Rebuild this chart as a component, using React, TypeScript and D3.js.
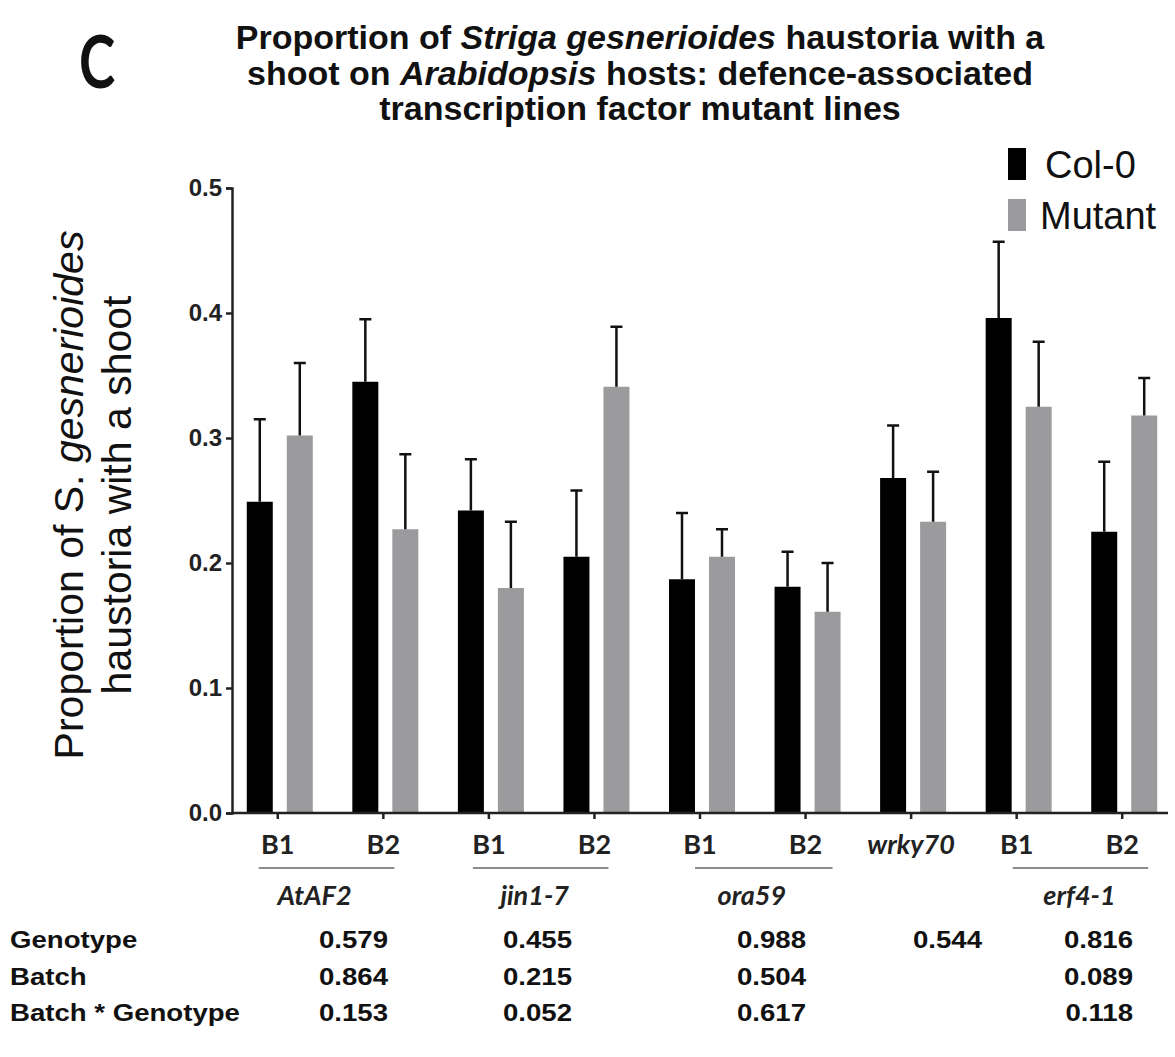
import React, { useEffect, useRef } from "react";
import * as d3 from "d3";

// bar chart data
const categories = ["AtAF2 B1", "AtAF2 B2", "jin1-7 B1", "jin1-7 B2", "ora59 B1", "ora59 B2", "wrky70", "erf4-1 B1", "erf4-1 B2"];
const tickLabels = ["B1", "B2", "B1", "B2", "B1", "B2", "wrky70", "B1", "B2"];
const col0Mean = [0.249, 0.345, 0.242, 0.205, 0.187, 0.181, 0.268, 0.396, 0.225];
const col0Sem = [0.066, 0.05, 0.041, 0.053, 0.053, 0.028, 0.042, 0.061, 0.056];
const mutantMean = [0.302, 0.227, 0.18, 0.341, 0.205, 0.161, 0.233, 0.325, 0.318];
const mutantSem = [0.058, 0.06, 0.053, 0.048, 0.022, 0.039, 0.04, 0.052, 0.03];
const series = ["Col-0", "Mutant"];
const yTicks = [0, 0.1, 0.2, 0.3, 0.4, 0.5];

// genes spanning two batches
const geneNames = ["AtAF2", "jin1-7", "ora59", "erf4-1"];
const geneFirst = [0, 2, 4, 7];
const geneLast = [1, 3, 5, 8];

// p-values table
const rowLabels = ["Genotype", "Batch", "Batch * Genotype"];
const genotypeP = ["0.579", "0.455", "0.988", "0.544", "0.816"];
const batchP = ["0.864", "0.215", "0.504", "", "0.089"];
const interactionP = ["0.153", "0.052", "0.617", "", "0.118"];

const W = 1175;
const H = 1057;
const ARIAL = "'Liberation Sans', Arial, sans-serif";
const CALIBRI = "Lato, 'Open Sans', sans-serif";

// hand-placed offsets of the gene underlines / names (relative to the B1/B2 ticks)
const lineStartOff = [-19, -16, -5, -4];
const lineEndOff = [11, 14, 27, 26];
const nameOff = [-12, -6, -12, -1];

const BarChart = () => {
  const ref = useRef<SVGSVGElement>(null);

  useEffect(() => {
    const svg = d3.select(ref.current);
    svg.selectAll("*").remove();

    const x = d3.scaleBand().domain(categories).range([225, 1175]);
    const bw = x.bandwidth();
    const xs = d3.scaleBand().domain(series).range([bw / 2 - 31, bw / 2 + 35]).paddingInner(0.35);
    const y = d3.scaleLinear().domain([0, 0.5]).range([813, 188]);
    const color = d3.scaleOrdinal<string>().domain(series).range(["#000000", "#9b9b9d"]);

    const rows = categories.map((c, i) => ({
      cat: c,
      vals: [
        { s: "Col-0", m: col0Mean[i], e: col0Sem[i] },
        { s: "Mutant", m: mutantMean[i], e: mutantSem[i] },
      ],
    }));

    // title
    const title = svg.append("text").attr("text-anchor", "middle").attr("font-family", ARIAL)
      .attr("font-weight", "bold").attr("font-size", 34).attr("fill", "#111");
    const l1 = title.append("tspan").attr("x", 640).attr("y", 49);
    l1.append("tspan").text("Proportion of ");
    l1.append("tspan").attr("font-style", "italic").text("Striga gesnerioides");
    l1.append("tspan").text(" haustoria with a");
    const l2 = title.append("tspan").attr("x", 640).attr("y", 85);
    l2.append("tspan").text("shoot on ");
    l2.append("tspan").attr("font-style", "italic").text("Arabidopsis");
    l2.append("tspan").text(" hosts: defence-associated");
    title.append("tspan").attr("x", 640).attr("y", 120).text("transcription factor mutant lines");

    // panel letter
    svg.append("text").attr("transform", "translate(79,88) scale(0.76,1)")
      .attr("font-family", CALIBRI).attr("font-weight", 700).attr("font-size", 72).attr("fill", "#111").text("C");

    // y label
    const yl = svg.append("text").attr("transform", "translate(0,495) rotate(-90)")
      .attr("text-anchor", "middle").attr("font-family", ARIAL).attr("font-size", 41).attr("fill", "#111");
    const yl1 = yl.append("tspan").attr("x", 0).attr("y", 83);
    yl1.append("tspan").text("Proportion of S. ");
    yl1.append("tspan").attr("font-style", "italic").text("gesnerioides");
    yl.append("tspan").attr("x", 0).attr("y", 131).text("haustoria with a shoot");

    // bars
    const g = svg.append("g").selectAll("g").data(rows).join("g")
      .attr("transform", d => `translate(${x(d.cat)},0)`);
    g.selectAll("rect").data(d => d.vals).join("rect")
      .attr("x", d => xs(d.s) as number)
      .attr("y", d => y(d.m))
      .attr("width", xs.bandwidth())
      .attr("height", d => y(0) - y(d.m))
      .attr("fill", d => color(d.s));
    // error bars (upper only)
    g.selectAll("path.err").data(d => d.vals).join("path").attr("class", "err")
      .attr("d", d => {
        const cx = (xs(d.s) as number) + xs.bandwidth() / 2;
        return `M${cx},${y(d.m)}V${y(d.m + d.e)}M${cx - 6},${y(d.m + d.e)}H${cx + 6}`;
      })
      .attr("stroke", "#111").attr("stroke-width", 2.5).attr("fill", "none");

    // y axis
    const yAxis = svg.append("g").attr("transform", "translate(232,0)")
      .call(d3.axisLeft(y).tickValues(yTicks).tickFormat(d3.format(".1f")).tickSize(6).tickPadding(4));
    yAxis.select(".domain").attr("stroke", "#222").attr("stroke-width", 2.5);
    yAxis.selectAll(".tick line").attr("stroke", "#222").attr("stroke-width", 2.5);
    yAxis.selectAll(".tick text").attr("font-family", ARIAL).attr("font-weight", "bold")
      .attr("font-size", 24).attr("fill", "#222");

    // x axis
    const xAxis = svg.append("g").attr("transform", "translate(0,813)")
      .call(d3.axisBottom(x).tickSize(6).tickFormat((d, i) => tickLabels[i]));
    xAxis.select(".domain").attr("d", "M232,0H1168").attr("stroke", "#222").attr("stroke-width", 2.5);
    xAxis.selectAll(".tick line").attr("stroke", "#222").attr("stroke-width", 2.5);
    xAxis.selectAll(".tick text").attr("font-family", CALIBRI).attr("font-weight", "bold")
      .attr("font-size", 27).attr("fill", "#222").attr("dy", 0).attr("y", 41)
      .attr("font-style", (d, i) => (tickLabels[i] === "wrky70" ? "italic" : "normal"));

    // gene underlines + names
    geneNames.forEach((name, i) => {
      const x0 = (x(categories[geneFirst[i]]) as number) + bw / 2 + lineStartOff[i];
      const x1 = (x(categories[geneLast[i]]) as number) + bw / 2 + lineEndOff[i];
      svg.append("line").attr("x1", x0).attr("x2", x1).attr("y1", 868).attr("y2", 868)
        .attr("stroke", "#666").attr("stroke-width", 1.5);
      svg.append("text").attr("x", (x0 + x1) / 2 + nameOff[i]).attr("y", 905).attr("text-anchor", "middle")
        .attr("font-family", CALIBRI).attr("font-weight", "bold").attr("font-style", "italic")
        .attr("font-size", 27).attr("fill", "#222").text(name);
    });

    // legend
    const leg = svg.append("g").selectAll("g").data(series).join("g")
      .attr("transform", (d, i) => `translate(1008,${148 + i * 51})`);
    leg.append("rect").attr("width", 18).attr("height", 32).attr("fill", d => color(d));
    leg.append("text").attr("x", (d, i) => (i === 0 ? 37 : 32)).attr("y", 30)
      .attr("font-family", ARIAL).attr("font-size", 38).attr("fill", "#111").text(d => d);

    // p-value table
    const colX = [388, 572, 806, 982, 1133];
    const rowY = [948, 985, 1021];
    [genotypeP, batchP, interactionP].forEach((vals, r) => {
      svg.append("text").attr("transform", `translate(10,${rowY[r]}) scale(1.2,1)`)
        .attr("font-family", ARIAL).attr("font-weight", "bold").attr("font-size", 23).attr("fill", "#111")
        .text(rowLabels[r]);
      vals.forEach((v, c) => {
        if (!v) return;
        svg.append("text").attr("transform", `translate(${colX[c]},${rowY[r]}) scale(1.2,1)`)
          .attr("text-anchor", "end").attr("font-family", ARIAL).attr("font-weight", "bold")
          .attr("font-size", 23).attr("fill", "#111").text(v);
      });
    });
  }, []);

  return (
    <svg ref={ref} width={W} height={H} style={{ position: "absolute", left: 0, top: 0, background: "#fff" }} />
  );
};

export default function App() {
  return <BarChart />;
}
